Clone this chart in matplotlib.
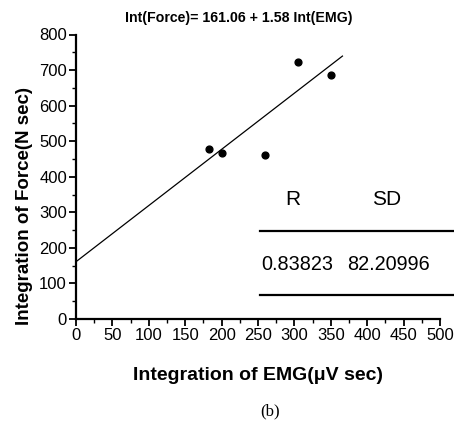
import matplotlib
matplotlib.use("Agg")
import matplotlib.pyplot as plt
from matplotlib.ticker import MultipleLocator
import numpy as np

# Integrated EMG vs integrated force
emg = [183, 200, 259, 305, 350]
force = [479, 468, 461, 722, 685]
intercept = 161.06
slope = 1.58
fit_x_end = 366
r_value = "0.83823"
sd_value = "82.20996"

xticks = [0, 50, 100, 150, 200, 250, 300, 350, 400, 450, 500]
yticks = [0, 100, 200, 300, 400, 500, 600, 700, 800]

sans = ["Liberation Sans", "DejaVu Sans"]

W, H = 454, 424
fig = plt.figure(figsize=(W / 100, H / 100), dpi=100)
ax = fig.add_axes([76 / W, 1 - 319 / H, (440 - 76) / W, (319 - 34.5) / H])

ax.set_xlim(0, 500)
ax.set_ylim(0, 800)
for s in ("top", "right"):
    ax.spines[s].set_visible(False)
for s in ("left", "bottom"):
    ax.spines[s].set_linewidth(1.6)

ax.set_xticks(xticks)
ax.set_yticks(yticks)
ax.xaxis.set_minor_locator(MultipleLocator(25))
ax.yaxis.set_minor_locator(MultipleLocator(50))
ax.tick_params(which="major", direction="out", length=5, width=1.3, pad=1.5)
ax.tick_params(which="minor", direction="out", length=3, width=1.0)
for lab in ax.get_xticklabels() + ax.get_yticklabels():
    lab.set_family(sans)
    lab.set_fontsize(12)

# regression line and points
xs = np.array([0, fit_x_end])
ax.plot(xs, intercept + slope * xs, color="black", lw=0.9)
ax.scatter(emg, force, s=24, color="black", zorder=3)

fig.text(239 / W, 1 - 18 / H, f"Int(Force)= {intercept} + {slope} Int(EMG)",
         ha="center", va="center", family=sans, weight="bold", fontsize=10.2)
fig.text(25 / W, 1 - 206 / H, "Integration of Force(N sec)", rotation=90,
         ha="center", va="center", family=sans, weight="bold", fontsize=13.5)
fig.text(258 / W, 1 - 376 / H, "Integration of EMG(\u03bcV sec)",
         ha="center", va="center", family=sans, weight="bold", fontsize=14)
fig.text(270 / W, 1 - 411 / H, "(b)", ha="center", va="center",
         family=["Liberation Serif", "DejaVu Serif"], fontsize=12)

# statistics table
fig.text(293 / W, 1 - 205 / H, "R", ha="center", va="baseline", family=sans, fontsize=15)
fig.text(387 / W, 1 - 205 / H, "SD", ha="center", va="baseline", family=sans, fontsize=15)
fig.text(297 / W, 1 - 270 / H, r_value, ha="center", va="baseline", family=sans, fontsize=14.3)
fig.text(388 / W, 1 - 270 / H, sd_value, ha="center", va="baseline", family=sans, fontsize=14.3)
for yy in (231, 295):
    fig.add_artist(plt.Line2D([260 / W, 1.0], [1 - yy / H, 1 - yy / H],
                              color="black", lw=1.6, transform=fig.transFigure))

fig.savefig("out.png", dpi=100)
